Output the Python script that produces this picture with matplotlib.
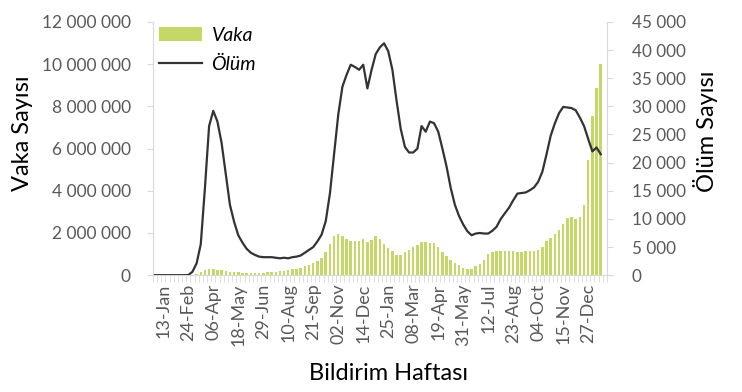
import numpy as np
import matplotlib
matplotlib.use("Agg")
import matplotlib.pyplot as plt
from matplotlib.ticker import FuncFormatter, FixedLocator

plt.rcParams['font.family'] = ['Lato', 'DejaVu Sans']

# weekly data, first week = 30-Dec-2019
# cases in thousands per week
cases_k = [0, 0, 0, 0, 0, 0, 0, 0, 2, 10,
           50, 150, 230, 270, 270, 250, 240, 200, 170, 150,
           130, 120, 120, 110, 110, 120, 120, 130, 140, 160,
           180, 200, 240, 270, 300, 350, 420, 500, 570, 650,
           820, 1100, 1500, 1850, 1970, 1850, 1720, 1640, 1620, 1630,
           1720, 1580, 1660, 1840, 1700, 1470, 1300, 1130, 980, 980,
           1090, 1210, 1340, 1420, 1570, 1570, 1540, 1530, 1340, 1100,
           900, 710, 580, 470, 350, 310, 310, 430, 550, 740,
           990, 1100, 1130, 1130, 1140, 1140, 1130, 1120, 1120, 1140,
           1150, 1150, 1210, 1340, 1620, 1780, 1940, 2130, 2440, 2720,
           2760, 2650, 2760, 3310, 5480, 7530, 8870, 10000]

# deaths per week
deaths = [0, 0, 0, 0, 0, 0, 0, 0, 20, 600,
          2100, 5500, 15500, 26500, 29200, 27300, 23500, 18000, 12500, 9500,
          7100, 5800, 4700, 4000, 3600, 3300, 3200, 3200, 3200, 3100,
          3000, 3100, 3000, 3200, 3300, 3500, 4000, 4500, 5000, 6000,
          7200, 9600, 14500, 21500, 28500, 33500, 35600, 37400, 37000, 36500,
          37400, 33200, 36500, 39300, 40500, 41200, 39800, 36500, 31000, 26000,
          22800, 21800, 21800, 22500, 26500, 25500, 27300, 27000, 25500, 22500,
          19300, 15500, 12500, 10500, 9000, 7800, 7100, 7400, 7500, 7400,
          7400, 7900, 8600, 10000, 11000, 12000, 13300, 14500, 14600, 14700,
          15100, 15600, 16600, 18400, 21500, 24800, 27000, 28800, 29900, 29800,
          29700, 29300, 28000, 26500, 24200, 22000, 22700, 21500]

tick_labels = ['13-Jan', '24-Feb', '06-Apr', '18-May', '29-Jun', '10-Aug',
               '21-Sep', '02-Nov', '14-Dec', '25-Jan', '08-Mar', '19-Apr',
               '31-May', '12-Jul', '23-Aug', '04-Oct', '15-Nov', '27-Dec']
first_label = 2
label_step = 6

cases = np.array(cases_k) * 1000
x = np.arange(len(cases))

grey = '#d9d9d9'
txt = '#595959'

fig = plt.figure(figsize=(7.42, 3.92), dpi=100)
ax = fig.add_axes([0.206, 0.298, 0.612, 0.646])
ax2 = ax.twinx()

bars = ax.bar(x, cases, width=0.6, color='#c5d766', label='Vaka')
line, = ax2.plot(x, deaths, color='#333333', lw=1.6, label='Ölüm')

ax.set_xlim(-0.5, len(cases) + 0.5)
ax.set_ylim(0, 12e6)
ax2.set_ylim(0, 45000)
ax.set_yticks(np.arange(0, 12e6 + 1, 2e6))
ax2.set_yticks(np.arange(0, 45001, 5000))

sp = lambda v, p: f"{int(v):,}".replace(',', ' ')
ax.yaxis.set_major_formatter(FuncFormatter(sp))
ax2.yaxis.set_major_formatter(FuncFormatter(sp))

pos = [first_label + label_step * k for k in range(len(tick_labels))]
ax.set_xticks(pos)
ax.set_xticklabels(tick_labels, rotation=90)
ax.xaxis.set_minor_locator(FixedLocator(np.arange(-0.5, len(cases) + 1, 1)))
ax.tick_params(axis='x', which='major', length=0, pad=6, labelsize=13, labelcolor=txt)
ax.tick_params(axis='x', which='minor', length=5, color=grey)
ax.tick_params(axis='y', length=4, color=grey, pad=12, labelsize=12.5, labelcolor=txt)
ax2.tick_params(axis='y', length=4, color=grey, pad=14, labelsize=12.3, labelcolor=txt)

for s in ['top', 'right']:
    ax.spines[s].set_visible(False)
ax.spines['left'].set_color(grey)
ax.spines['bottom'].set_color(grey)
for s in ['top', 'left', 'bottom']:
    ax2.spines[s].set_visible(False)
ax2.spines['right'].set_color(grey)

ax.set_ylabel('Vaka Sayısı', fontsize=17)
ax.yaxis.set_label_coords(-0.265, 0.56)
ax2.set_ylabel('Ölüm Sayısı', fontsize=17)
ax2.yaxis.set_label_coords(1.19, 0.57)
ax.set_xlabel('Bildirim Haftası', fontsize=17)
ax.xaxis.set_label_coords(0.52, -0.345)

leg = ax2.legend([bars, line], ['Vaka', 'Ölüm'], loc='upper left',
                 bbox_to_anchor=(-0.025, 1.05), frameon=False,
                 prop={'style': 'italic', 'size': 14},
                 handlelength=2.2, handletextpad=0.5, labelspacing=0.6)

plt.savefig('out.png', dpi=100)
